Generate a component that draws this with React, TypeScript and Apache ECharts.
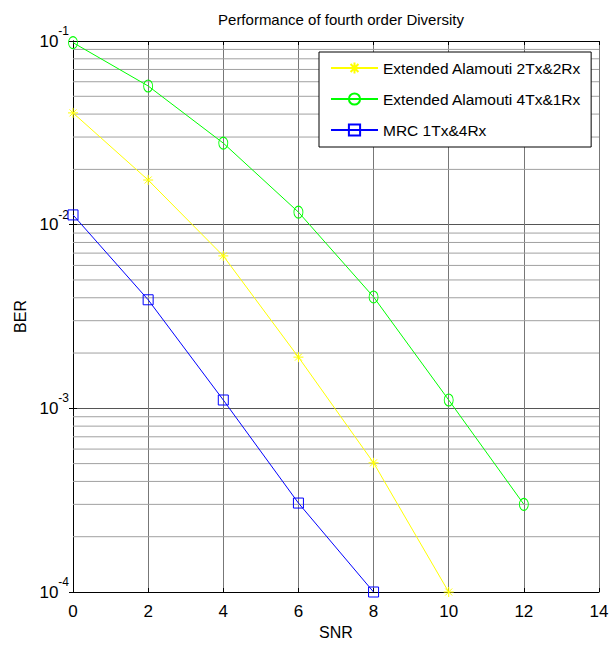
import React, { useEffect, useRef } from 'react';
import * as echarts from 'echarts';

const snr = [0, 2, 4, 6, 8, 10, 12];
const alamouti2x2 = [0.0406, 0.0175, 0.00676, 0.0019, 0.000505, 0.0001];
const alamouti4x1 = [0.098, 0.0569, 0.0278, 0.0117, 0.00404, 0.00111, 0.0003];
const mrc1x4 = [0.0113, 0.0039, 0.00111, 0.000305, 0.0001];
const seriesNames = ['Extended Alamouti 2Tx&2Rx', 'Extended Alamouti 4Tx&1Rx', 'MRC 1Tx&4Rx'];
const xRange = [0, 14];
const xStep = 2;
const yRange = [1e-4, 1e-1];
const decades = [1e-4, 1e-3, 1e-2];
const minorMultipliers = [2, 3, 4, 5, 6, 7, 8, 9];

const FONT = "'Liberation Sans', Arial, sans-serif";

const pairs = (vals: number[]) => vals.map((v, i) => [snr[i], v]);

export default function App() {
  const ref = useRef<HTMLDivElement>(null);
  useEffect(() => {
    if (!ref.current) return;
    const chart = echarts.init(ref.current, undefined, { renderer: 'svg' });
    const minorGrid: number[] = [];
    decades.forEach((d) => minorMultipliers.forEach((m) => minorGrid.push(d * m)));
    const yLabel = (v: number) => `{b|10}{s|${Math.round(Math.log10(v))}}`;
    const gridSeries = minorGrid.map((v, i) => ({
      name: 'minor' + i,
      type: 'line',
      silent: true,
      z: 1,
      symbol: 'none',
      data: [
        [xRange[0], v],
        [xRange[1], v],
      ],
      lineStyle: { color: '#a0a0a0', width: 1 },
      tooltip: { show: false },
    }));
    const option: any = {
      animation: false,
      backgroundColor: '#fff',
      title: {
        text: 'Performance of fourth order Diversity',
        left: 336,
        top: 7,
        textAlign: 'center',
        textStyle: { fontFamily: FONT, fontSize: 15, fontWeight: 'normal', color: '#000' },
      },
      grid: { left: 73, top: 41, right: 14, bottom: 57, containLabel: false },
      legend: {
        data: seriesNames,
        orient: 'vertical',
        left: 319,
        top: 52,
        padding: [8, 10, 9, 11],
        itemGap: 15,
        itemWidth: 47,
        itemHeight: 14,
        backgroundColor: '#fff',
        borderColor: '#000',
        borderWidth: 1,
        borderRadius: 0,
        z: 10,
        textStyle: { fontFamily: FONT, fontSize: 15.5, color: '#000' },
      },
      xAxis: [
        {
          type: 'value',
          min: xRange[0],
          max: xRange[1],
          interval: xStep,
          name: 'SNR',
          nameLocation: 'middle',
          nameGap: 30,
          nameTextStyle: { fontFamily: FONT, fontSize: 16, color: '#000' },
          axisLine: { lineStyle: { color: '#000', width: 1 } },
          axisTick: { inside: true, length: 4, lineStyle: { color: '#000' } },
          axisLabel: { fontFamily: FONT, fontSize: 17, color: '#000', margin: 11 },
          splitLine: { show: true, lineStyle: { color: '#777', width: 1 } },
        },
        {
          type: 'value',
          position: 'top',
          min: xRange[0],
          max: xRange[1],
          interval: xStep,
          axisLine: { lineStyle: { color: '#000', width: 1 } },
          axisTick: { inside: true, length: 4, lineStyle: { color: '#000' } },
          axisLabel: { show: false },
          splitLine: { show: false },
        },
      ],
      yAxis: [
        {
          type: 'log',
          logBase: 10,
          min: yRange[0],
          max: yRange[1],
          name: 'BER',
          nameLocation: 'middle',
          nameGap: 42,
          nameTextStyle: { fontFamily: FONT, fontSize: 16, color: '#000' },
          axisLine: { show: true, lineStyle: { color: '#000', width: 1 } },
          axisTick: { inside: true, length: 4, lineStyle: { color: '#000' } },
          axisLabel: {
            margin: 4,
            formatter: yLabel,
            rich: {
              b: { fontFamily: FONT, fontSize: 17, color: '#000' },
              s: { fontFamily: FONT, fontSize: 12, color: '#000', padding: [0, 0, 20, 0] },
            },
          },
          splitLine: { show: true, lineStyle: { color: '#555', width: 1 } },
        },
        {
          type: 'log',
          logBase: 10,
          position: 'right',
          min: yRange[0],
          max: yRange[1],
          axisLine: { show: true, lineStyle: { color: '#000', width: 1 } },
          axisTick: { inside: true, length: 4, lineStyle: { color: '#000' } },
          axisLabel: { show: false },
          splitLine: { show: false },
        },
      ],
      series: [
        ...gridSeries,
        {
          name: seriesNames[0],
          type: 'line',
          z: 6,
          data: pairs(alamouti2x2),
          symbol: 'path://M0,-1L0,1M-1,0L1,0M-0.7,-0.7L0.7,0.7M-0.7,0.7L0.7,-0.7',
          symbolSize: 10,
          lineStyle: { color: '#ffff00', width: 1 },
          itemStyle: { color: 'rgba(0,0,0,0)', borderColor: '#ffff00', borderWidth: 1 },
        },
        {
          name: seriesNames[1],
          type: 'line',
          z: 6,
          data: pairs(alamouti4x1),
          symbol: 'path://M0,-1A1,1,0,1,1,0,1A1,1,0,1,1,0,-1Z',
          symbolSize: [9, 12],
          lineStyle: { color: '#00ff00', width: 1 },
          itemStyle: { color: 'rgba(0,0,0,0)', borderColor: '#00ff00', borderWidth: 1 },
        },
        {
          name: seriesNames[2],
          type: 'line',
          z: 6,
          data: pairs(mrc1x4),
          symbol: 'rect',
          symbolSize: 10,
          lineStyle: { color: '#0000ff', width: 1 },
          itemStyle: { color: 'rgba(0,0,0,0)', borderColor: '#0000ff', borderWidth: 1 },
        },
      ],
    };
    chart.setOption(option);
    return () => chart.dispose();
  }, []);
  return (
    <div
      ref={ref}
      style={{ position: 'fixed', left: 0, top: 0, width: 613, height: 649, background: '#fff' }}
    />
  );
}
